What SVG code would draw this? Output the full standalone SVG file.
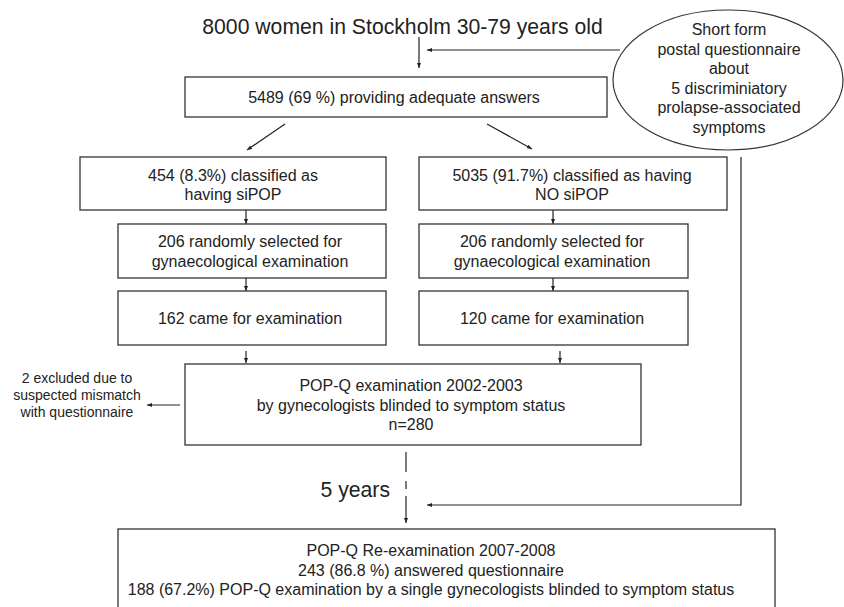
<svg xmlns="http://www.w3.org/2000/svg" width="844" height="607" viewBox="0 0 844 607">
<style>
  .box { fill: #fff; stroke: #333; stroke-width: 1.3; }
  .t { font-family: "Liberation Sans", Arial, sans-serif; font-size: 16px; fill: #222; text-anchor: middle; }
  .big { font-size: 21.2px; }
  .small { font-size: 14px; }
  .c { stroke: #222; stroke-width: 1.2; fill: none; }
  .ar { marker-end: url(#ah); }
</style>
<defs>
  <marker id="ah" viewBox="0 0 10 10" refX="10" refY="5" markerWidth="5" markerHeight="5" orient="auto" markerUnits="userSpaceOnUse">
    <path d="M0,1 L10,5 L0,9 z" fill="#222"/>
  </marker>
</defs>
<rect width="844" height="607" fill="#fff"/>

<g id="connectors">
  <line class="c ar" x1="419" y1="37" x2="419" y2="68"/>
  <line class="c ar" x1="620" y1="50" x2="427" y2="50"/>
  <line class="c ar" x1="285" y1="124" x2="247" y2="150"/>
  <line class="c ar" x1="487" y1="124" x2="532" y2="149"/>
  <line class="c ar" x1="246" y1="210" x2="246" y2="224"/>
  <line class="c ar" x1="553" y1="210" x2="553" y2="224"/>
  <line class="c ar" x1="246" y1="278" x2="246" y2="291"/>
  <line class="c ar" x1="553" y1="278" x2="553" y2="291"/>
  <line class="c ar" x1="246" y1="351" x2="246" y2="363"/>
  <line class="c ar" x1="560" y1="351" x2="560" y2="363"/>
  <line class="c ar" x1="180" y1="405" x2="147" y2="405"/>
  <line class="c" x1="406" y1="452" x2="406" y2="472"/>
  <line class="c" x1="406" y1="481" x2="406" y2="489"/>
  <line class="c ar" x1="406" y1="496" x2="406" y2="523"/>
  <polyline class="c ar" points="741,157 741,505 427,505"/>
</g>

<g id="title">
  <text class="t big" x="402.5" y="34">8000 women in Stockholm 30-79 years old</text>
</g>

<g id="questionnaire">
  <ellipse cx="728" cy="80" rx="115" ry="70" fill="#fff" stroke="#333" stroke-width="1.2"/>
  <text class="t" x="729" y="35">Short form</text>
  <text class="t" x="729" y="54.5">postal questionnaire</text>
  <text class="t" x="729" y="74">about</text>
  <text class="t" x="729" y="93.5">5 discriminiatory</text>
  <text class="t" x="729" y="113">prolapse-associated</text>
  <text class="t" x="729" y="132.5">symptoms</text>
</g>

<g id="adequate">
  <rect class="box" x="185" y="77" width="422" height="40"/>
  <text class="t" x="394" y="102.5">5489 (69 %) providing adequate answers</text>
</g>

<g id="sipop">
  <rect class="box" x="80" y="157" width="306" height="53"/>
  <text class="t" x="233" y="180.5">454 (8.3%) classified as</text>
  <text class="t" x="233" y="200">having siPOP</text>
</g>

<g id="nosipop">
  <rect class="box" x="419" y="157" width="308" height="53"/>
  <text class="t" x="572" y="180.5">5035 (91.7%) classified as having</text>
  <text class="t" x="572" y="200">NO siPOP</text>
</g>

<g id="selected-left">
  <rect class="box" x="118" y="224" width="268" height="54"/>
  <text class="t" x="250" y="247">206 randomly selected for</text>
  <text class="t" x="250" y="267">gynaecological examination</text>
</g>

<g id="selected-right">
  <rect class="box" x="419" y="224" width="269" height="54"/>
  <text class="t" x="552" y="247">206 randomly selected for</text>
  <text class="t" x="552" y="267">gynaecological examination</text>
</g>

<g id="came-left">
  <rect class="box" x="118" y="291" width="268" height="54"/>
  <text class="t" x="250" y="323.5">162 came for examination</text>
</g>

<g id="came-right">
  <rect class="box" x="419" y="291" width="269" height="54"/>
  <text class="t" x="552" y="323.5">120 came for examination</text>
</g>

<g id="popq">
  <rect class="box" x="185" y="364" width="456" height="81"/>
  <text class="t" x="411" y="391">POP-Q examination 2002-2003</text>
  <text class="t" x="411" y="411">by gynecologists blinded to symptom status</text>
  <text class="t" x="411" y="430">n=280</text>
</g>

<g id="excluded">
  <text class="t small" x="77" y="383">2 excluded due to</text>
  <text class="t small" x="77" y="400">suspected mismatch</text>
  <text class="t small" x="77" y="417">with questionnaire</text>
</g>

<g id="five-years">
  <text class="t big" x="390" y="497" style="text-anchor:end">5 years</text>
</g>

<g id="reexam">
  <rect class="box" x="118" y="529" width="657" height="95"/>
  <text class="t" x="431" y="556">POP-Q Re-examination 2007-2008</text>
  <text class="t" x="431" y="575.5">243 (86.8 %) answered questionnaire</text>
  <text class="t" x="431" y="595">188 (67.2%) POP-Q examination by a single gynecologists blinded to symptom status</text>
</g>
</svg>
